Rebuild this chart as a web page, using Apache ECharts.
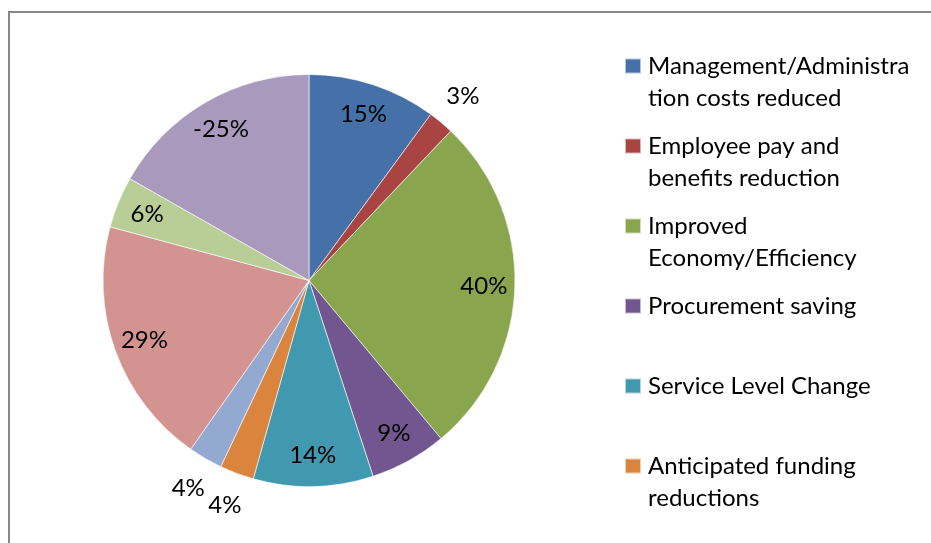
<!DOCTYPE html>
<html>
<head>
<meta charset="utf-8">
<script src="https://cdn.jsdelivr.net/npm/echarts@6/dist/echarts.min.js"></script>
<style>
html,body{margin:0;padding:0;background:#fff;}
#chart{width:931px;height:543px;}
</style>
</head>
<body>
<div id="chart"></div>
<script>
// ---- data ----
var categories = [
  'Management/Administration costs reduced',
  'Employee pay and benefits reduction',
  'Improved Economy/Efficiency',
  'Procurement saving',
  'Service Level Change',
  'Anticipated funding reductions',
  'Income generation',
  'Shared services',
  'Demand management',
  'Other'
];
var values = [15, 3, 40, 9, 14, 4, 4, 29, 6, -25];
var legendLabels = [
  ['Management/Administra', 'tion costs reduced'],
  ['Employee pay and', 'benefits reduction'],
  ['Improved', 'Economy/Efficiency'],
  ['Procurement saving', ' '],
  ['Service Level Change', ' '],
  ['Anticipated funding', 'reductions'],
  ['Income generation', ' '],
  ['Shared services', ' '],
  ['Demand management', ' '],
  ['Other', ' ']
];
var legendVisibleCount = 6; // the rest of the legend falls outside the picture
var labelOutside = [false, true, false, false, false, true, true, false, false, false];
var colors = ['#4571A8', '#A84543', '#89A54D', '#71568F', '#4199B0', '#DB843D', '#93A9D0', '#D29391', '#B9CD97', '#A99ABD'];

// ---- build ----
var FONT = 'Lato';
var CX = 309, CY = 280.5, R = 206;

function sliceData(showFn) {
  return categories.map(function (name, i) {
    return {
      name: name,
      value: Math.abs(values[i]),
      label: { show: showFn(i) }
    };
  });
}
function fmt(p) { return values[p.dataIndex] + '%'; }

var labelStyle = {
  position: 'inside',
  formatter: fmt,
  color: '#000',
  fontFamily: FONT,
  fontSize: 24
};

var chart = echarts.init(document.getElementById('chart'), null, {renderer: 'canvas'});
chart.setOption({
  animation: false,
  color: colors,
  graphic: [{
    type: 'rect',
    silent: true,
    z: -10,
    shape: {x: 9, y: 12, width: 960, height: 600},
    style: {fill: 'none', stroke: '#878787', lineWidth: 2}
  }],
  legend: {
    orient: 'vertical',
    left: 624,
    top: 18,
    height: 3000,
    padding: 0,
    itemGap: -16,
    itemWidth: 16,
    itemHeight: 15,
    icon: 'rect',
    selectedMode: false,
    data: categories.slice(0, legendVisibleCount),
    formatter: function (name) {
      var i = categories.indexOf(name);
      return '\n' + legendLabels[i][0] + '\n' + legendLabels[i][1];
    },
    textStyle: {
      fontFamily: FONT,
      fontSize: 24,
      lineHeight: 32,
      color: '#000',
      padding: [0, 0, 0, 2]
    }
  },
  series: [
    {
      type: 'pie',
      center: [CX, CY],
      radius: [0, R],
      startAngle: 90,
      clockwise: true,
      data: sliceData(function () { return false; }),
      label: {show: false},
      labelLine: {show: false},
      itemStyle: {borderColor: 'rgba(255,255,255,0.6)', borderWidth: 1},
      emphasis: {disabled: true}
    },
    {
      type: 'pie',
      silent: true,
      center: [CX, CY],
      radius: [0, 344],
      startAngle: 90,
      clockwise: true,
      data: sliceData(function (i) { return !labelOutside[i]; }),
      itemStyle: {color: 'rgba(0,0,0,0)'},
      label: labelStyle,
      labelLine: {show: false},
      emphasis: {disabled: true}
    },
    {
      type: 'pie',
      silent: true,
      center: [CX, CY],
      radius: [R, 268],
      startAngle: 90,
      clockwise: true,
      data: sliceData(function (i) { return labelOutside[i]; }),
      itemStyle: {color: 'rgba(0,0,0,0)'},
      label: labelStyle,
      labelLine: {show: false},
      emphasis: {disabled: true}
    }
  ]
});
</script>
</body>
</html>
